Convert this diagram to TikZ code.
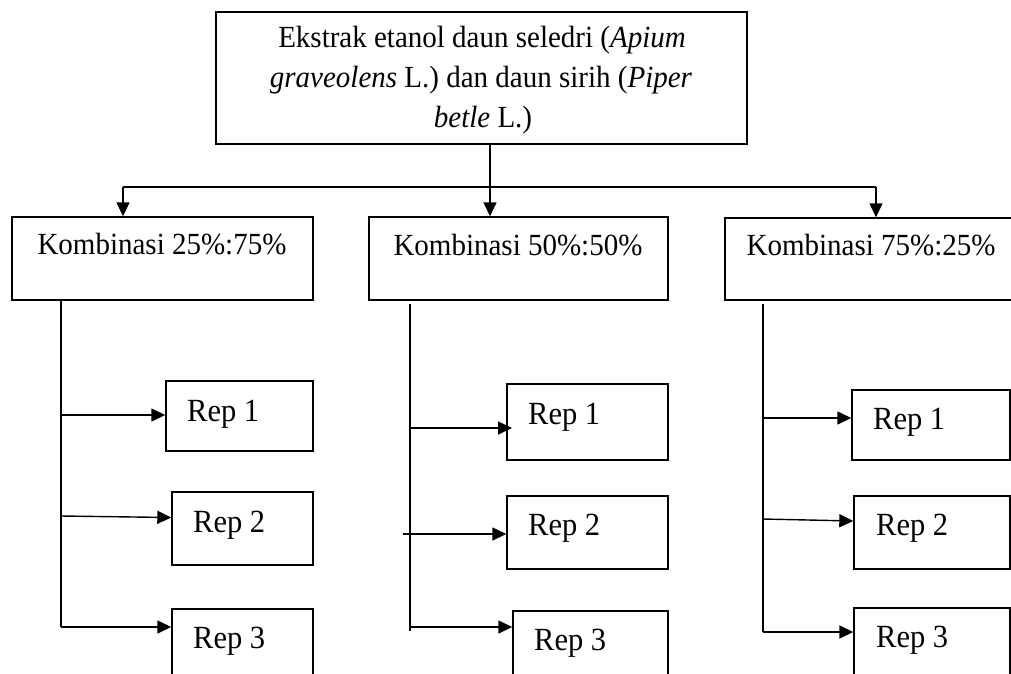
\documentclass[tikz,border=0pt]{standalone}
\usepackage{fontspec}
\setmainfont{Liberation Serif}
\usetikzlibrary{arrows.meta,fit}
\newcommand{\vstretch}[1]{\scalebox{1}[1.06]{#1}}
\tikzset{
  box/.style={draw=black, line width=1.4pt, inner sep=0pt},
  lbl/.style={inner sep=0pt, font=\fontsize{29}{35}\selectfont},
  replbl/.style={inner sep=0pt, font=\fontsize{30.5}{36}\selectfont},
  conn/.style={draw=black, line width=1.4pt},
  arr/.style={conn, -{Triangle[length=14pt,width=13pt]}}
}
\begin{document}
\begin{tikzpicture}[x=1pt,y=-1pt]
\useasboundingbox (0,0) rectangle (1011,673);
\clip (0,0) rectangle (1011,673);
\fill[white] (0,0) rectangle (1011,673);
% top box
\node[box, fit={(216,12) (747,144)}] (top) {};
\node[lbl, anchor=base] (t1) at (482,47) {\vstretch{Ekstrak etanol daun seledri (\textit{Apium}}};
\node[lbl, anchor=base] (t2) at (481,87) {\vstretch{\textit{graveolens} L.) dan daun sirih (\textit{Piper}}};
\node[lbl, anchor=base] (t3) at (483,127) {\vstretch{\textit{betle} L.)}};
% combination boxes
\node[box, fit={(12,217) (313,300)}] (k1) {};
\node[box, fit={(369,217) (668,300)}] (k2) {};
\node[box, fit={(725,218) (1030,300)}] (k3) {};
\node[lbl, anchor=base] (k1t) at (162,254) {\vstretch{Kombinasi 25\%:75\%}};
\node[lbl, anchor=base] (k2t) at (518,255) {\vstretch{Kombinasi 50\%:50\%}};
\node[lbl, anchor=base] (k3t) at (871,255) {\vstretch{Kombinasi 75\%:25\%}};
% branching from top
\coordinate (hl) at (123,187);
\coordinate (hr) at (876,187);
\draw[arr] (top.south -| 490,0) -- (k2.north -| 490,0);
\draw[conn] (hl) -- (hr);
\draw[arr] (hl) -- (k1.north -| hl);
\draw[arr] (hr) -- (k3.north -| hr);
% rep boxes left
\node[box, fit={(166,381) (313,451)}] (r11) {};
\node[box, fit={(172,492) (313,565)}] (r12) {};
\node[box, fit={(172,609) (313,700)}] (r13) {};
\node[replbl, anchor=base west] (r11t) at (187,421) {\vstretch{Rep 1}};
\node[replbl, anchor=base west] (r12t) at (193,532) {\vstretch{Rep 2}};
\node[replbl, anchor=base west] (r13t) at (193,648) {\vstretch{Rep 3}};
% rep boxes middle
\node[box, fit={(507,384) (668,460)}] (r21) {};
\node[box, fit={(507,496) (668,569)}] (r22) {};
\node[box, fit={(513,611) (668,700)}] (r23) {};
\node[replbl, anchor=base west] (r21t) at (528,424) {\vstretch{Rep 1}};
\node[replbl, anchor=base west] (r22t) at (528,535) {\vstretch{Rep 2}};
\node[replbl, anchor=base west] (r23t) at (534,650) {\vstretch{Rep 3}};
% rep boxes right
\node[box, fit={(852,390) (1010,460)}] (r31) {};
\node[box, fit={(854,496) (1010,569)}] (r32) {};
\node[box, fit={(854,608) (1010,700)}] (r33) {};
\node[replbl, anchor=base west] (r31t) at (873,429) {\vstretch{Rep 1}};
\node[replbl, anchor=base west] (r32t) at (876,535) {\vstretch{Rep 2}};
\node[replbl, anchor=base west] (r33t) at (876,647) {\vstretch{Rep 3}};
% vertical trunks
\coordinate (v1b) at (61,627);
\coordinate (v2t) at (410,304);
\coordinate (v2b) at (410,631);
\coordinate (v3t) at (763,304);
\coordinate (v3b) at (763,632);
\draw[conn] (k1.south -| v1b) -- (v1b);
\draw[conn] (v2t) -- (v2b);
\draw[conn] (v3t) -- (v3b);
% arrows left
\draw[arr] (61,415) -- (r11.west |- 0,415);
\draw[arr] (61,516) -- (r12.west |- 0,517.5);
\draw[arr] (v1b) -- (r13.west |- v1b);
% arrows middle
\draw[arr] (410,428) -- (512,428);
\draw[arr] (403,534) -- (r22.west |- 0,534);
\draw[arr] (410,627) -- (r23.west |- 0,627);
% arrows right
\draw[arr] (763,418) -- (r31.west |- 0,418);
\draw[arr] (763,519) -- (r32.west |- 0,521);
\draw[arr] (v3b) -- (r33.west |- v3b);
\end{tikzpicture}
\end{document}
